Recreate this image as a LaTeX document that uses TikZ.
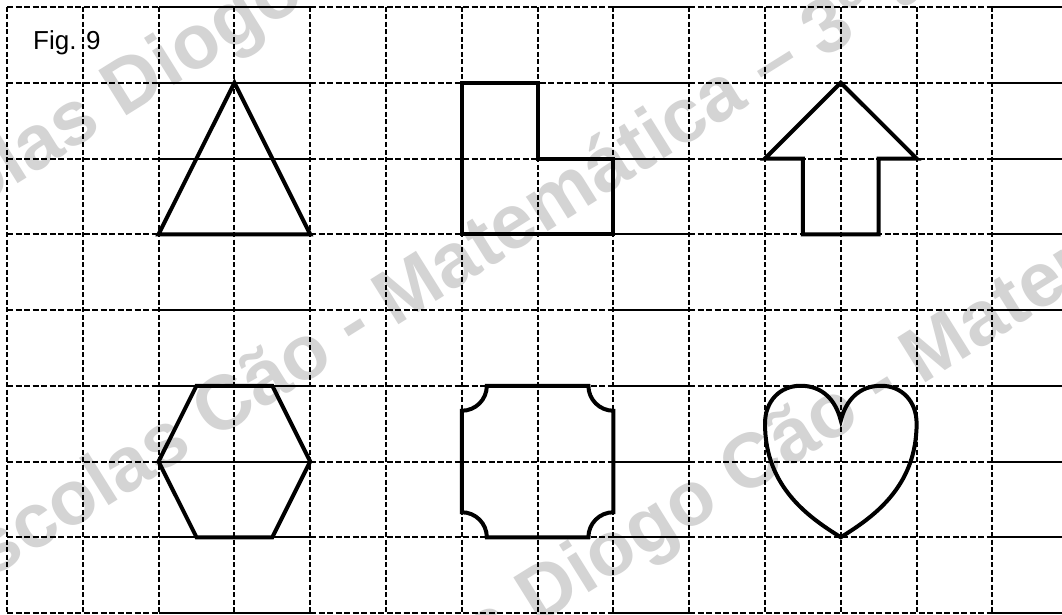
\documentclass[tikz,border=0pt]{standalone}
\usepackage{fontspec}
\setmainfont{Liberation Sans}
\begin{document}
\begin{tikzpicture}[x=1pt,y=-1pt,
  hdash/.style={line width=2pt, dash pattern=on 6pt off 2.5pt},
  vdash/.style={line width=2pt, dash pattern=on 5pt off 2.5pt},
  hsolid/.style={line width=2pt},
  figline/.style={line width=4pt, line join=miter},
  lbl/.style={inner sep=0pt, anchor=base west, font=\fontsize{26}{30}\selectfont},
  wmark/.style={inner sep=0pt, anchor=base west, rotate=32, text=black!17,
    font=\fontsize{77}{80}\selectfont\bfseries}
]
\useasboundingbox (0,0) rectangle (1062,615);
\fill[white] (0,0) rectangle (1062,615);
% watermark
\begin{scope}
  \clip (0,0) rectangle (1062,615);
  \node[wmark] (wmA) at (-143,284) {Escolas Diogo Cão};
  \node[wmark] (wmB) at (-52,606) {Escolas Cão - Matemática – 3º ano};
  \node[wmark] (wmC) at (272,791) {Escolas Diogo Cão - Matemática};
\end{scope}
\begin{scope}[shift={(7pt,-7pt)}, x=75.8pt, y=-75.75pt]
  % grid
  \foreach \j in {0,...,8} {
    \draw[hdash] (0,\j) -- (2,\j);
    \draw[hsolid] (2,\j) -- (4,\j);
    \draw[hdash] (4,\j) -- (8,\j);
    \draw[hsolid] (8,\j) -- (9,\j);
    \draw[hdash] (9,\j) -- (13,\j);
    \draw[hsolid] (13,\j) -- (13.95,\j);
  }
  \foreach \k in {0,...,13} \draw[vdash] (\k,0) -- (\k,8);
  % triangle
  \draw[figline] (3,1) -- (4,3) -- (2,3) -- cycle;
  % L shape
  \draw[figline] (6,1) -- (7,1) -- (7,2) -- (8,2) -- (8,3) -- (6,3) -- cycle;
  % arrow
  \draw[figline] (11,1) -- (12,2) -- (11.5,2) -- (11.5,3) -- (10.5,3) -- (10.5,2) -- (10,2) -- cycle;
  % hexagon
  \draw[figline] (2.5,5) -- (3.5,5) -- (4,6) -- (3.5,7) -- (2.5,7) -- (2,6) -- cycle;
  % square with notched corners
  \draw[figline] (6.33,5) -- (7.67,5)
    .. controls (7.67,5.182) and (7.818,5.33) .. (8,5.33) -- (8,6.67)
    .. controls (7.818,6.67) and (7.67,6.818) .. (7.67,7) -- (6.33,7)
    .. controls (6.33,6.818) and (6.182,6.67) .. (6,6.67) -- (6,5.33)
    .. controls (6.182,5.33) and (6.33,5.182) .. cycle;
  % heart
  \draw[figline] (11,7)
    .. controls (10.6,6.75) and (10,6.35) .. (10,5.5)
    .. controls (10,5.2) and (10.2,5) .. (10.47,5)
    .. controls (10.75,5) and (10.93,5.18) .. (11,5.46)
    .. controls (11.07,5.18) and (11.25,5) .. (11.53,5)
    .. controls (11.8,5) and (12,5.2) .. (12,5.5)
    .. controls (12,6.35) and (11.4,6.75) .. (11,7) -- cycle;
\end{scope}
\node[lbl] (fig) at (33,50) {Fig. 9};
\end{tikzpicture}
\end{document}
